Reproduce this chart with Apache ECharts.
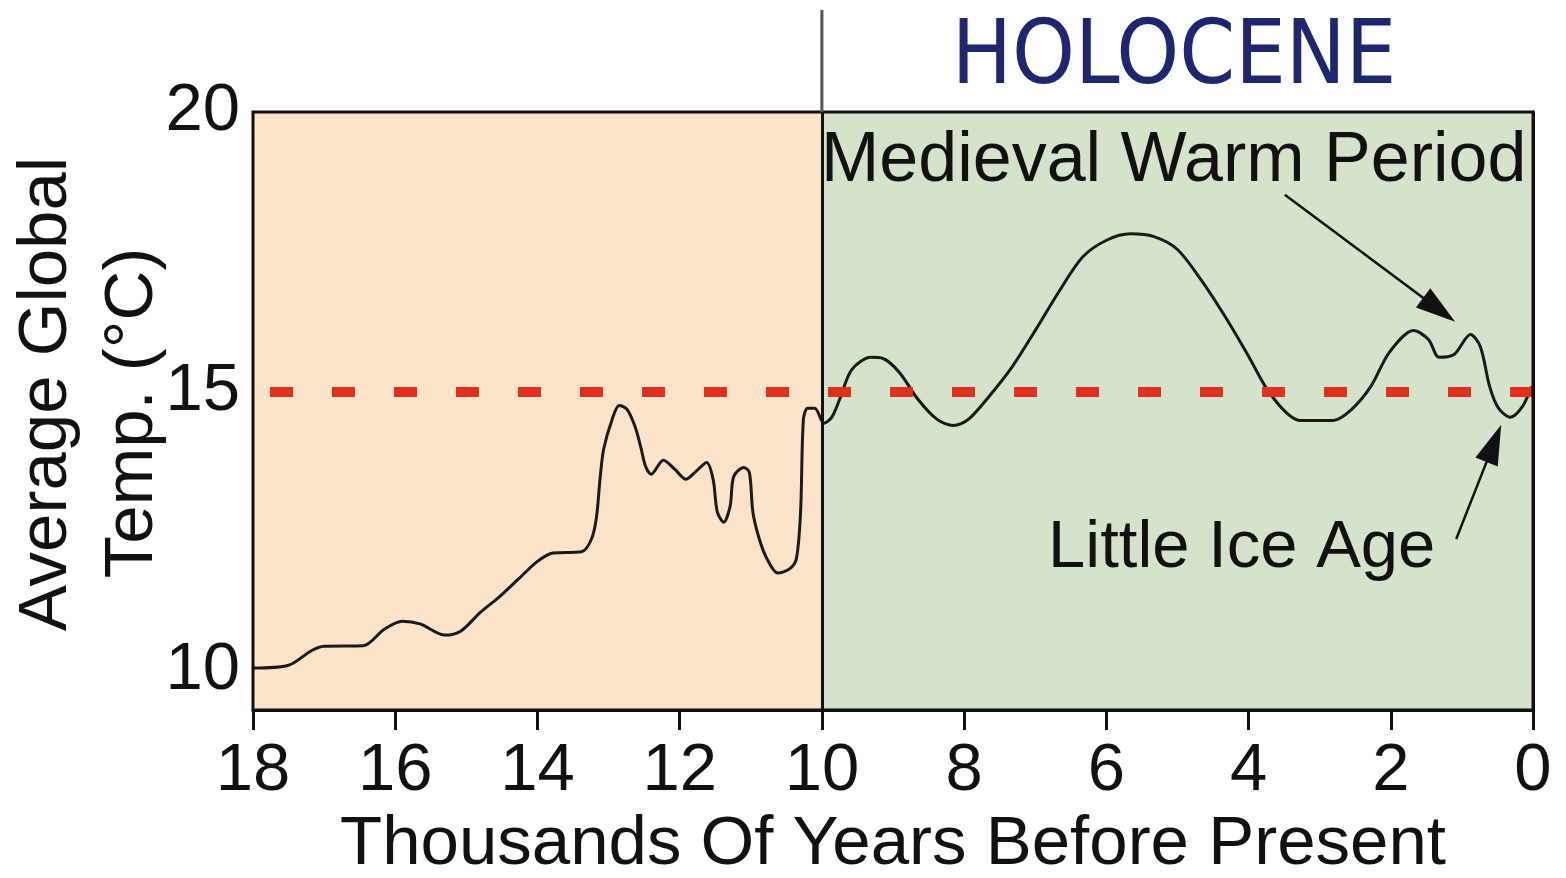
<!DOCTYPE html>
<html>
<head>
<meta charset="utf-8">
<title>Holocene temperature</title>
<script src="https://cdn.jsdelivr.net/npm/echarts@6/dist/echarts.min.js"></script>
<style>
  html, body { margin: 0; padding: 0; background: #fff; }
  #chart { width: 1566px; height: 878px; }
</style>
</head>
<body>
<div id="chart"></div>
<script>
// thousands of years before present
const years = [
  18.0, 17.5, 17.18, 17.0, 16.45, 16.15, 15.9, 15.65, 15.3, 15.08,
  14.8, 14.54, 14.27, 14.0, 13.78, 13.38, 13.24, 13.17, 13.12, 13.07,
  12.95, 12.85, 12.74, 12.63, 12.55, 12.48, 12.4, 12.23, 12.07, 11.91,
  11.77, 11.62, 11.53, 11.47, 11.38, 11.29, 11.24, 11.1, 11.02, 10.97,
  10.88, 10.77, 10.62, 10.46, 10.36, 10.3, 10.26, 10.2, 10.1, 9.97,
  9.86, 9.75, 9.58, 9.31, 9.14, 8.91, 8.65, 8.38, 8.15, 7.94,
  7.65, 7.32, 6.99, 6.65, 6.33, 5.99, 5.66, 5.33, 5.0, 4.67,
  4.33, 4.0, 3.74, 3.47, 3.27, 2.81, 2.55, 2.28, 2.02, 1.68,
  1.47, 1.32, 1.11, 0.88, 0.74, 0.61, 0.49, 0.32, 0.15, 0.02
]
// average global temperature, degC
const temps = [
  10.05, 10.1, 10.36, 10.44, 10.45, 10.75, 10.89, 10.84, 10.64, 10.71,
  11.05, 11.32, 11.64, 11.96, 12.11, 12.13, 12.36, 12.75, 13.43, 13.96,
  14.5, 14.75, 14.68, 14.38, 14.02, 13.66, 13.52, 13.77, 13.61, 13.43,
  13.57, 13.73, 13.43, 12.84, 12.66, 12.95, 13.48, 13.64, 13.55, 12.84,
  12.36, 12.0, 11.75, 11.82, 12.0, 12.84, 14.5, 14.7, 14.7, 14.43,
  14.54, 14.86, 15.39, 15.61, 15.59, 15.34, 14.86, 14.5, 14.39, 14.5,
  14.91, 15.45, 16.11, 16.82, 17.41, 17.71, 17.82, 17.77, 17.54, 17.0,
  16.34, 15.63, 15.04, 14.62, 14.48, 14.48, 14.68, 15.09, 15.7, 16.09,
  15.93, 15.61, 15.66, 16.02, 15.8, 15.09, 14.71, 14.54, 14.73, 15.09
]
const yTicks = [10, 15, 20]
const meanTemp = 15
const holoceneStart = 10
// annotation arrows [from, to] in data coords
const warmArrow = [[3.49, 18.52], [1.32, 16.46]]
const iceArrow = [[1.08, 12.36], [0.55, 14.07]]

const font = 'Liberation Sans, Arial, Helvetica, sans-serif'
const chart = echarts.init(document.getElementById('chart'))

chart.setOption({
  animation: false,
  grid: { left: 253, right: 33, top: 112, bottom: 168, outerBoundsMode: 'none', containLabel: false },
  xAxis: {
    type: 'value',
    inverse: true,
    min: 0,
    max: 18,
    interval: 2,
    name: 'Thousands Of Years Before Present',
    nameLocation: 'middle',
    nameGap: 100,
    nameTextStyle: { fontSize: 69, color: '#111', fontFamily: font },
    axisLine: { lineStyle: { color: '#111', width: 3 } },
    axisTick: { show: true, inside: false, length: 20, lineStyle: { color: '#111', width: 3 } },
    axisLabel: { fontSize: 67, color: '#111', fontFamily: font, margin: 28 },
    splitLine: { show: false }
  },
  yAxis: {
    type: 'value',
    min: 9.3,
    max: 20,
    axisLine: { show: true, lineStyle: { color: '#111', width: 3 } },
    axisTick: { show: false },
    axisLabel: { fontSize: 67, color: '#111', fontFamily: font, margin: 13, customValues: yTicks },
    splitLine: { show: false }
  },
  series: [{
    type: 'line',
    data: years.map((y, i) => [y, temps[i]]),
    smooth: 0.3,
    showSymbol: false,
    lineStyle: { color: '#1a1a1a', width: 3 },
    markArea: {
      silent: true,
      data: [
        [{ xAxis: 18, itemStyle: { color: '#FAE3C9' } }, { xAxis: holoceneStart }],
        [{ xAxis: holoceneStart, itemStyle: { color: '#D6E3CB' } }, { xAxis: 0 }]
      ]
    },
    markLine: {
      silent: true,
      symbol: ['none', 'none'],
      label: { show: false },
      itemStyle: { color: '#111' },
      data: [
        { yAxis: meanTemp, lineStyle: { color: '#E2301F', width: 10, type: [23, 39], cap: 'butt' } },
        { xAxis: holoceneStart, lineStyle: { color: '#111', width: 3, type: 'solid' } },
        [
          { coord: warmArrow[0], symbol: 'none', lineStyle: { color: '#111', width: 2.5, type: 'solid' } },
          { coord: warmArrow[1], symbol: 'triangle', symbolSize: [24, 40] }
        ],
        [
          { coord: iceArrow[0], symbol: 'none', lineStyle: { color: '#111', width: 2.5, type: 'solid' } },
          { coord: iceArrow[1], symbol: 'triangle', symbolSize: [24, 40] }
        ]
      ]
    }
  }]
})

// decorations that sit around the plot box
const topLeft = chart.convertToPixel({ gridIndex: 0 }, [18, 20])
const botRight = chart.convertToPixel({ gridIndex: 0 }, [0, 9.3])
const splitX = chart.convertToPixel({ gridIndex: 0 }, [holoceneStart, 20])[0]

chart.setOption({
  graphic: [
    {
      type: 'rect', z: 100, silent: true,
      shape: { x: topLeft[0], y: topLeft[1], width: botRight[0] - topLeft[0], height: botRight[1] - topLeft[1] },
      style: { fill: 'none', stroke: '#111', lineWidth: 3 }
    },
    {
      type: 'line', z: 100, silent: true,
      shape: { x1: splitX, y1: 10, x2: splitX, y2: topLeft[1] },
      style: { stroke: '#555', lineWidth: 3 }
    },
    {
      type: 'text', z: 100, x: 1174, y: 60,
      style: { text: 'HOLOCENE', fontSize: 89, fontFamily: 'DejaVu Sans Condensed, Open Sans, sans-serif', fill: '#1E2670', align: 'center', verticalAlign: 'middle' }
    },
    {
      type: 'text', z: 100, x: 821, y: 162,
      style: { text: 'Medieval Warm Period', fontSize: 70, fontFamily: font, fill: '#111', align: 'left', verticalAlign: 'middle' }
    },
    {
      type: 'text', z: 100, x: 1048, y: 549,
      style: { text: 'Little Ice Age', fontSize: 67, fontFamily: font, fill: '#111', align: 'left', verticalAlign: 'middle' }
    },
    {
      type: 'text', z: 100, x: 47, y: 394, rotation: Math.PI / 2,
      style: { text: 'Average Global', fontSize: 69, fontFamily: font, fill: '#111', align: 'center', verticalAlign: 'middle' }
    },
    {
      type: 'text', z: 100, x: 133, y: 413, rotation: Math.PI / 2,
      style: { text: 'Temp. (\u00B0C)', fontSize: 69, fontFamily: font, fill: '#111', align: 'center', verticalAlign: 'middle' }
    }
  ]
})
</script>
</body>
</html>
